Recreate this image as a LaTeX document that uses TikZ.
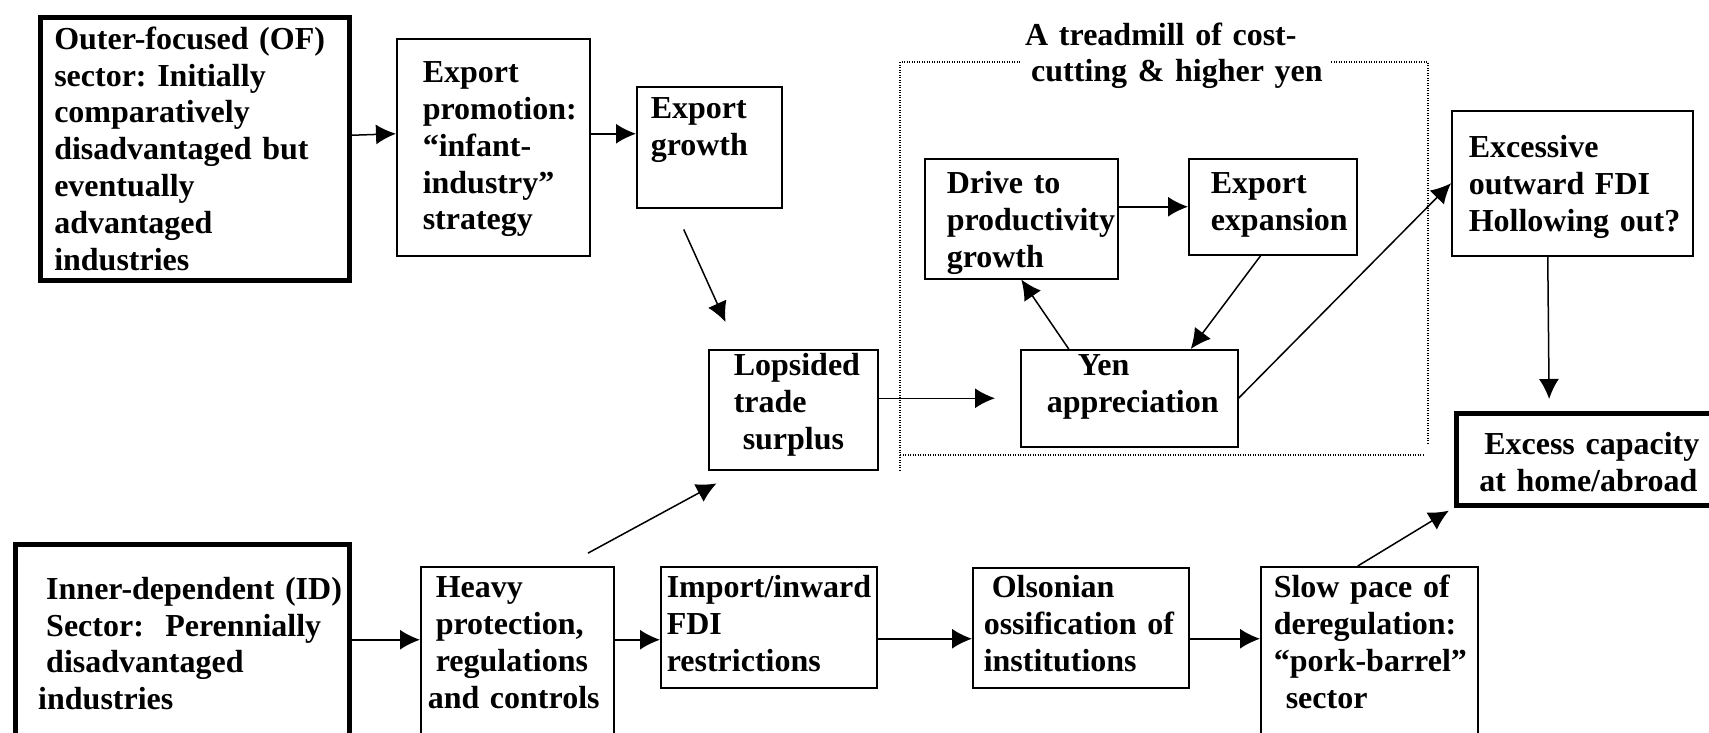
\documentclass[tikz,border=0pt]{standalone}
\usepackage{fontspec}
\setmainfont{Liberation Serif}
\usetikzlibrary{arrows.meta,calc}
\frenchspacing
\begin{document}
\begin{tikzpicture}[x=1pt, y=-1pt, font=\fontsize{32pt}{36.8pt}\selectfont\bfseries,
        box/.style={draw, line width=1.5pt, anchor=north west, align=left, inner sep=0pt, execute at begin node={\leftskip=#1}},
        box/.default=0pt,
        bigbox/.style={box=#1, line width=4.5pt},
        bigbox/.default=0pt,
        arr/.style={-{Latex[length=20pt,width=20pt]}, line width=1.5pt},
        frame/.style={line width=1.2pt, dash pattern=on 1pt off 1.5pt}]
    \useasboundingbox (0,0) rectangle (1709,732);
    \clip (0,0) rectangle (1709,732);
    % treadmill frame
    \draw[frame] (1020,62) -- (900,62) -- (900,470);
    \draw[frame] (1331,62) -- (1428,62) -- (1428,445);
    \draw[frame] (900,455) -- (1425,455);
    \node[anchor=base west, text width=300pt, align=left, inner sep=0pt] (tread) at (1025,45) {A treadmill of cost-\\\hspace*{6pt}cutting \& higher yen};
    % top row
    \node[bigbox=14pt, text width=309pt, text height=32pt, text depth=231pt] (of) at (38,15) {Outer-focused (OF)\\sector: Initially\\comparatively\\disadvantaged but\\eventually\\advantaged\\industries};
    \node[box=26pt, text width=193pt, text height=44pt, text depth=173pt] (ep) at (396,38) {Export\\promotion:\\“infant-\\industry”\\strategy};
    \node[box=14pt, text width=145pt, text height=32pt, text depth=89pt] (eg) at (636,86) {Export\\growth};
    \node[box=25pt, text width=169pt, text height=26pt, text depth=94pt] (lop) at (708,349) {Lopsided\\trade\\\hspace*{9pt}surplus};
    \node[box=22pt, text width=193pt, text height=35pt, text depth=85pt] (drive) at (924,158) {Drive to\\productivity\\growth};
    \node[box=22pt, text width=168pt, text height=35pt, text depth=61pt] (expx) at (1188,158) {Export\\expansion};
    \node[box=26pt, text width=217pt, text height=26pt, text depth=71pt] (yen) at (1020,349) {\hspace*{31pt}Yen\\appreciation};
    \node[box=17pt, text width=241pt, text height=47pt, text depth=98pt] (fdi) at (1451,110) {Excessive\\outward FDI\\Hollowing out?};
    \node[bigbox=23pt, text width=264pt, text height=41pt, text depth=51pt] (cap) at (1454,411) {\hspace*{5pt}Excess capacity\\at home/abroad};
    % bottom row
    \node[bigbox=23pt, text width=334pt, text height=55pt, text depth=136pt] (id) at (13,542) {\hspace*{8pt}Inner-dependent (ID)\\\hspace*{8pt}Sector:\ \ Perennially\\\hspace*{8pt}disadvantaged\\industries};
    \node[box=7pt, text width=193pt, text height=31pt, text depth=160pt] (heavy) at (420,566) {\hspace*{8pt}Heavy\\\hspace*{8pt}protection,\\\hspace*{8pt}regulations\\and controls};
    \node[box=6pt, text width=216pt, text height=31pt, text depth=90pt] (imp) at (660,566) {Import/inward\\FDI\\restrictions};
    \node[box=11pt, text width=216pt, text height=30pt, text depth=90pt] (ols) at (972,567) {\hspace*{8pt}Olsonian\\ossification of\\institutions};
    \node[box=13pt, text width=217pt, text height=31pt, text depth=160pt] (slow) at (1260,566) {Slow pace of\\deregulation:\\“pork-barrel”\\\hspace*{12pt}sector};
    % connectors
    \draw[arr] ([yshift=13.5pt]of.east) -- ([yshift=13.5pt]ep.west);
    \draw[arr] ([yshift=13.5pt]ep.east) -- ([yshift=13.5pt]eg.west);
    \draw[arr, shorten <=23pt, shorten >=29.6pt] ([xshift=-35pt]eg.south) -- ([xshift=-55.5pt]lop.north);
    \draw[arr, shorten <=27pt, shorten >=27pt] ([xshift=47pt]heavy.north) -- ([xshift=-53pt]lop.south);
    \draw[arr, shorten >=25pt] (lop.east |- yen.west) -- (yen.west);
    \draw[arr] (drive.east |- expx.west) -- (expx.west);
    \draw[arr] ([xshift=-12pt]expx.south) -- ([xshift=61.5pt]yen.north);
    \draw[arr] ([xshift=-60.5pt]yen.north) -- (drive.south);
    \draw[arr] (yen.east) -- (fdi.west);
    \draw[arr, shorten >=12pt] ([xshift=-24.5pt]fdi.south) -- ([xshift=-39pt]cap.north);
    \draw[arr, shorten >=6pt] ([xshift=-11.5pt]slow.north) -- (cap.south west);
    \draw[arr] (id.east) -- (id.east -| heavy.west);
    \draw[arr] (id.east -| heavy.east) -- (id.east -| imp.west);
    \draw[arr] ([yshift=-11.5pt]imp.east) -- ([yshift=-11pt]ols.west);
    \draw[arr] ([yshift=-11pt]ols.east) -- ($(ols.east -| slow.west)+(0,11)$);
\end{tikzpicture}
\end{document}
